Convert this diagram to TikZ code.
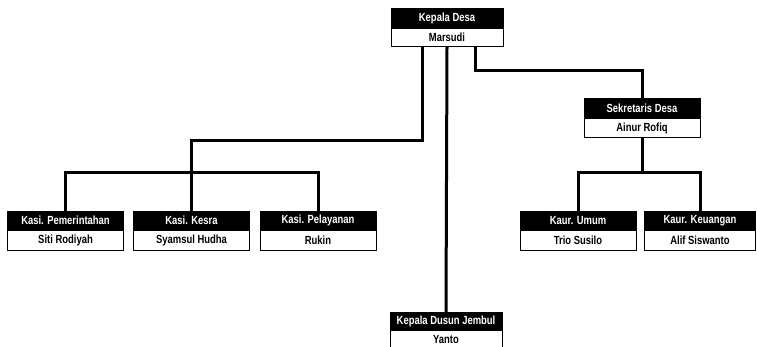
\documentclass[tikz,border=0pt]{standalone}
\usepackage{fontspec}
\setmainfont[FakeStretch=0.8]{Liberation Sans}
\begin{document}
\begin{tikzpicture}[x=1pt, y=-1pt, line join=miter,
    head node/.style={draw=black, fill=black, text=white, inner sep=0pt, minimum width=116pt, minimum height=19.5pt, font=\fontsize{11.8}{12}\selectfont\bfseries},
    name node/.style={draw=black, line width=0.8pt, fill=white, inner sep=0pt, minimum width=116pt, minimum height=19.5pt, anchor=north, font=\fontsize{11.8}{12}\selectfont\bfseries},
    link/.style={line width=3pt}]
                \useasboundingbox (0,0) rectangle (757,346);

                % top
                \node[head node, minimum width=112pt] at (447,18) (desaH) {Kepala Desa};
                \node[name node, minimum width=112pt, minimum height=18pt] at (desaH.south) (desaN) {Marsudi};

                % kasi
                \node[head node] at (65.5,220.5) (pemH) {Kasi. Pemerintahan};
                \node[name node] at (pemH.south) (pemN) {Siti Rodiyah};
                \node[head node] at (191.5,220.5) (kesH) {Kasi. Kesra};
                \node[name node] at (kesH.south) (kesN) {Syamsul Hudha};
                \node[head node] at (318,220.5) (pelH) {Kasi. Pelayanan};
                \node[name node] at (pelH.south) (pelN) {Rukin};

                % sekretaris
                \node[head node] at (642,108) (sekH) {Sekretaris Desa};
                \node[name node] at (sekH.south) (sekN) {Ainur Rofiq};

                % kaur
                \node[head node] at (578,220.5) (umumH) {Kaur. Umum};
                \node[name node] at (umumH.south) (umumN) {Trio Susilo};
                \node[head node, minimum width=111pt] at (700,220.5) (uangH) {Kaur. Keuangan};
                \node[name node, minimum width=111pt] at (uangH.south) (uangN) {Alif Siswanto};

                % dusun
                \node[head node, minimum width=112pt, minimum height=18pt] at (446,321) (dusH) {Kepala Dusun Jembul};
                \node[name node, minimum width=112pt, minimum height=18pt] at (dusH.south) (dusN) {Yanto};

            \draw[link] ([xshift=-25pt]desaN.south) -- ++(0,94) -| (kesH.north);
            \draw[link] (pemH.north) -- ++(0,-38) -| (pelH.north);
            \draw[link] (desaN.south) -- (dusH.north);
            \draw[link] ([xshift=28pt]desaN.south) -- ++(0,24) -| (sekH.north);
            \draw[link] (sekN.south) -- ++(0,34) coordinate (sj);
            \draw[link] (umumH.north) |- (sj) -| (uangH.north);

            \end{tikzpicture}
\end{document}
